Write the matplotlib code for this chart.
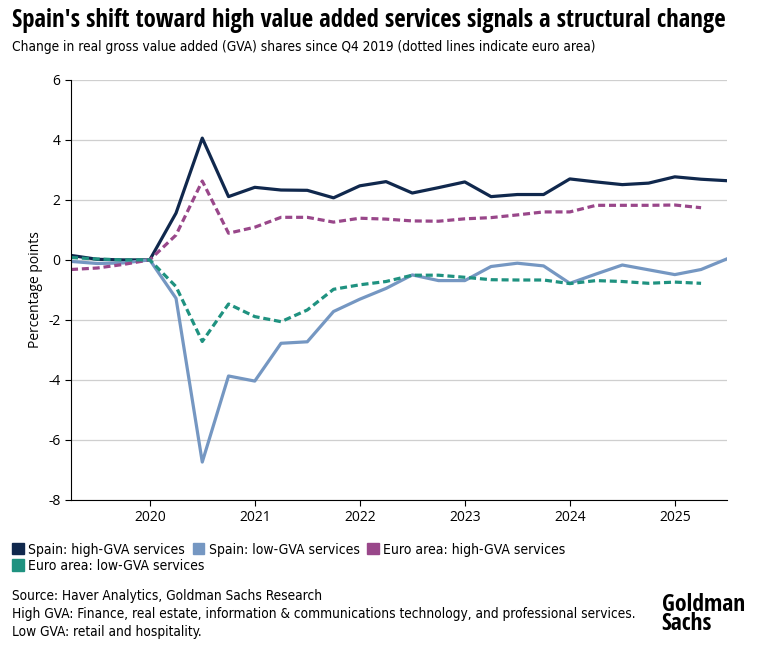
import os
import numpy as np
import matplotlib
matplotlib.use("Agg")
import matplotlib.pyplot as plt
from matplotlib.patches import Patch
from matplotlib import font_manager as fm

# quarterly points, Q1 2019 .. Q2 2025 (Q4 2019 drawn at 2020.0)
quarters = np.arange(2019.25, 2025.51, 0.25)

spain_high = [0.15, 0.02, 0.0, 0.0, 1.56, 4.06, 2.11, 2.42, 2.33, 2.32, 2.07, 2.47, 2.61,
              2.23, 2.41, 2.60, 2.11, 2.18, 2.18, 2.70, 2.60, 2.51, 2.56, 2.77, 2.69, 2.64]
spain_low = [-0.05, -0.12, -0.10, 0.0, -1.28, -6.74, -3.87, -4.04, -2.78, -2.73, -1.72, -1.31, -0.95,
             -0.50, -0.69, -0.69, -0.22, -0.11, -0.20, -0.78, -0.47, -0.17, -0.33, -0.49, -0.32, 0.04]
euro_high = [-0.32, -0.27, -0.15, 0.0, 0.83, 2.63, 0.89, 1.09, 1.42, 1.42, 1.26, 1.39, 1.36,
             1.30, 1.29, 1.37, 1.41, 1.50, 1.60, 1.60, 1.82, 1.82, 1.82, 1.83, 1.74]
euro_low = [0.08, 0.03, 0.0, 0.0, -0.89, -2.72, -1.47, -1.89, -2.06, -1.67, -0.98, -0.83, -0.72,
            -0.51, -0.51, -0.58, -0.66, -0.67, -0.67, -0.79, -0.69, -0.72, -0.78, -0.74, -0.78]

year_ticks = [2020, 2021, 2022, 2023, 2024, 2025]
y_ticks = [-8, -6, -4, -2, 0, 2, 4, 6]

navy = "#10284d"
light_blue = "#7597c2"
purple = "#99478a"
teal = "#1f9280"


def find_font(names):
    files = {os.path.basename(f.fname).lower().replace("-", ""): f.fname
             for f in fm.fontManager.ttflist}
    for n in names:
        key = n.lower().replace("-", "")
        if key in files:
            return fm.FontProperties(fname=files[key])
    return None


cond_bold = find_font(["OpenSans-CondBold.ttf"])
body = fm.FontProperties(family="DejaVu Sans", stretch="condensed")

plt.rcParams["font.family"] = ["Open Sans", "DejaVu Sans"]

fig = plt.figure(figsize=(7.57, 6.5), dpi=100)
ax = fig.add_axes([0.0938, 0.231, 0.867, 0.646])

ax.plot(quarters, spain_high, color=navy, lw=2.3)
ax.plot(quarters, spain_low, color=light_blue, lw=2.3)
ax.plot(quarters[:len(euro_high)], euro_high, color=purple, lw=2.3, ls=(0, (2.2, 1.2)))
ax.plot(quarters[:len(euro_low)], euro_low, color=teal, lw=2.3, ls=(0, (2.2, 1.2)))

ax.set_xlim(2019.25, 2025.5)
ax.set_ylim(-8, 6)
ax.set_xticks(year_ticks)
ax.set_xticklabels([str(y) for y in year_ticks])
ax.set_yticks(y_ticks)
ax.set_yticklabels([str(y) for y in y_ticks])
ax.grid(axis="y", color="#cfcfcf", lw=0.9)
ax.set_axisbelow(True)
for s in ["top", "right"]:
    ax.spines[s].set_visible(False)
ax.tick_params(axis="both", labelsize=10, length=4, width=0.8, colors="black")
ax.set_ylabel("Percentage points", fontsize=10, labelpad=4)

if cond_bold is not None:
    t = cond_bold.copy()
    t.set_size(17.8)
    g = cond_bold.copy()
    g.set_size(17)
else:
    t = fm.FontProperties(family="DejaVu Sans", stretch="condensed", weight="bold", size=14)
    g = fm.FontProperties(family="DejaVu Sans", stretch="condensed", weight="bold", size=13)
fig.text(0.016, 0.968, "Spain's shift toward high value added services signals a structural change",
         fontproperties=t, va="center")
s = body.copy()
s.set_size(9.8)
fig.text(0.016, 0.927, "Change in real gross value added (GVA) shares since Q4 2019 (dotted lines indicate euro area)",
         fontproperties=s, va="center")

lp = body.copy()
lp.set_size(10)
leg_kw = dict(loc="upper left", frameon=False, prop=lp, handlelength=0.85, handleheight=0.85,
              handletextpad=0.3, columnspacing=0.55, borderpad=0)
leg1 = fig.legend([Patch(color=navy), Patch(color=light_blue), Patch(color=purple)],
                  ["Spain: high-GVA services", "Spain: low-GVA services", "Euro area: high-GVA services"],
                  bbox_to_anchor=(0.007, 0.176), ncol=3, **leg_kw)
leg2 = fig.legend([Patch(color=teal)], ["Euro area: low-GVA services"],
                  bbox_to_anchor=(0.007, 0.151), ncol=1, **leg_kw)

fig.text(0.016, 0.055, "Source: Haver Analytics, Goldman Sachs Research\n"
         "High GVA: Finance, real estate, information & communications technology, and professional services.\n"
         "Low GVA: retail and hospitality.",
         fontproperties=s, va="center", linespacing=1.35)
fig.text(0.874, 0.055, "Goldman\nSachs", fontproperties=g,
         va="center", ha="left", linespacing=0.7)

fig.savefig("out.png", dpi=100)
